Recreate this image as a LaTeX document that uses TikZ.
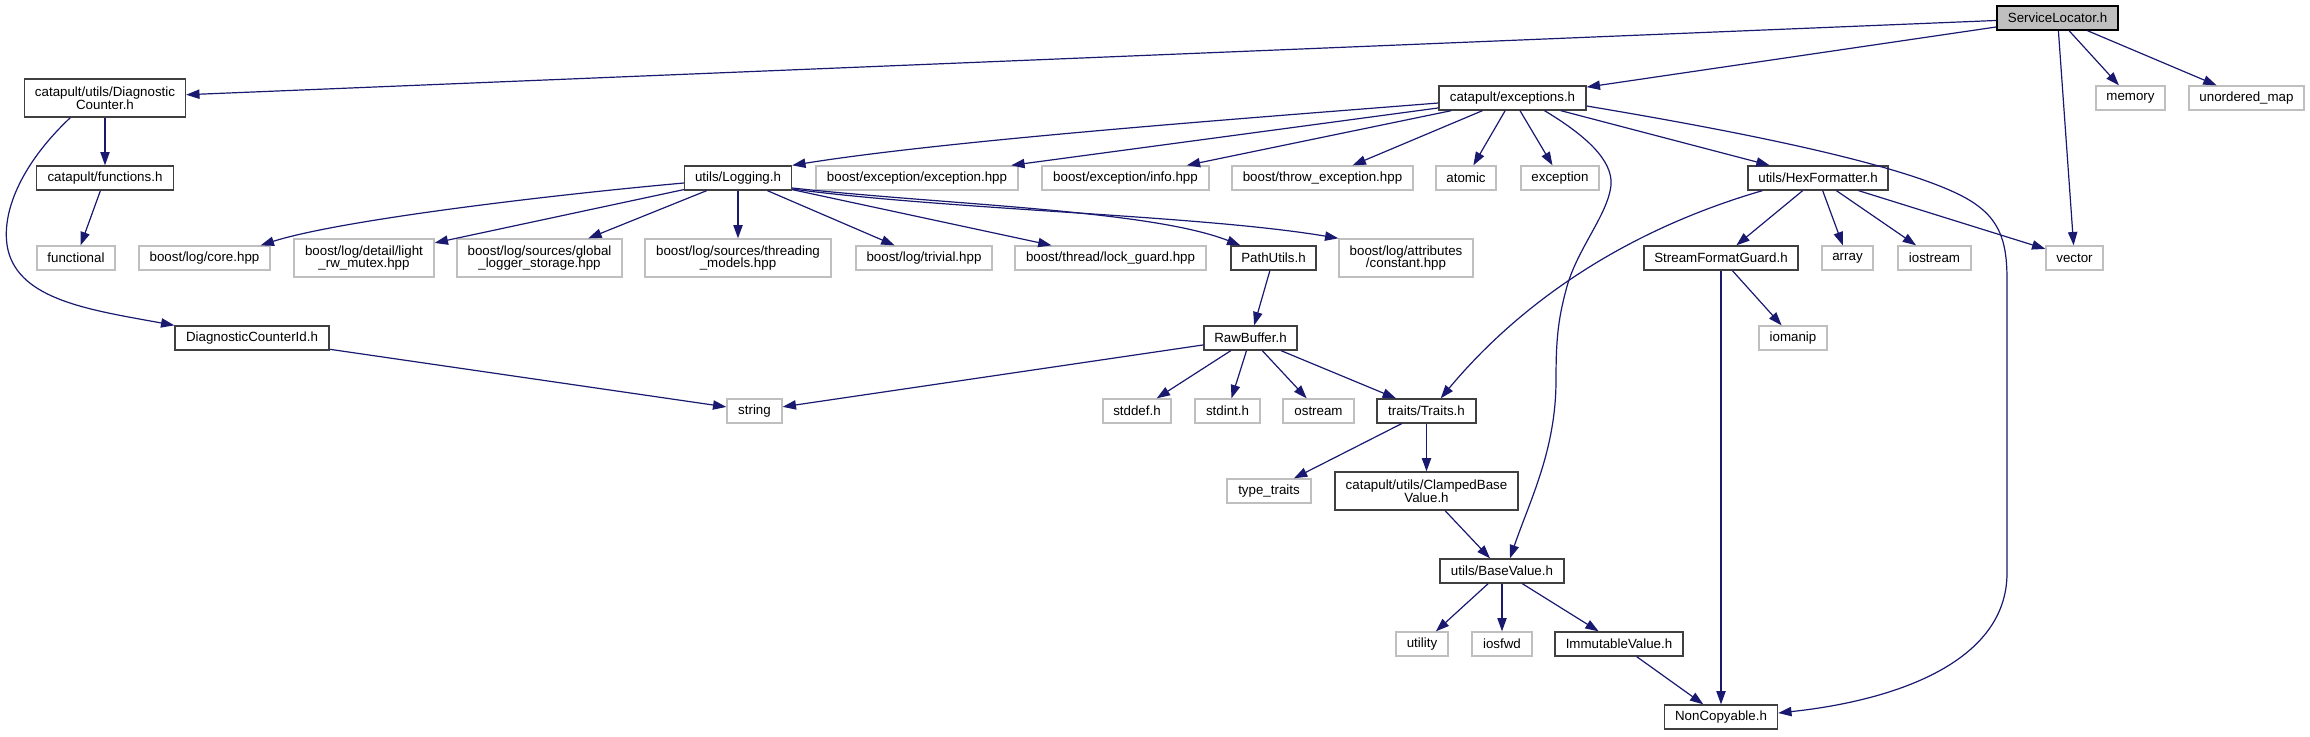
\documentclass[tikz,border=0pt]{standalone}
\usepackage{fontspec}
\setmainfont{Liberation Sans}
\usetikzlibrary{calc,arrows.meta}
\definecolor{edgeblue}{HTML}{191970}
\definecolor{docgrey}{HTML}{404040}
\definecolor{extgrey}{HTML}{BFBFBF}
\tikzset{
  box/.style={rectangle, inner sep=0pt, minimum height=18pt, align=center,
    font=\fontsize{10pt}{9.4pt}\selectfont, line width=1pt, fill=white},
  docbox/.style={box, draw=docgrey},
  extbox/.style={box, draw=extgrey},
  rootbox/.style={box, draw=black, fill=extgrey},
  twoline/.style={minimum height=28.5pt},
  bw/.style={minimum width=#1*0.75pt},
  edge/.style={draw=edgeblue, line width=0.9pt, -{Triangle[length=10pt,width=7pt]}}
}
\begin{document}
\begin{tikzpicture}[x=0.75pt,y=-0.75pt]
\useasboundingbox (0,0) rectangle (2310,736);
% rank 0
\node[rootbox,bw=121] (sl) at (2057.5,18) {ServiceLocator.h};
% rank 1
\node[docbox,twoline,bw=161] (dc) at (105,98) {catapult/utils/Diagnostic\\Counter.h};
\node[docbox,bw=147] (exc) at (1512.5,98) {catapult/exceptions.h};
\node[extbox,bw=69] (mem) at (2130.5,98) {memory};
\node[extbox,bw=115] (umap) at (2246.5,98) {unordered\_map};
% rank 2
\node[docbox,bw=137] (fun) at (105,178) {catapult/functions.h};
\node[docbox,bw=107] (log) at (738,178) {utils/Logging.h};
\node[extbox,bw=202] (bexc) at (917,178) {boost/exception/exception.hpp};
\node[extbox,bw=167] (binfo) at (1125.5,178) {boost/exception/info.hpp};
\node[extbox,bw=181] (bthrow) at (1322.5,178) {boost/throw\_exception.hpp};
\node[extbox,bw=60] (atomic) at (1466,178) {atomic};
\node[extbox,bw=78] (exception) at (1560,178) {exception};
\node[docbox,bw=140] (hex) at (1818,178) {utils/HexFormatter.h};
% rank 3
\node[extbox,bw=78] (functional) at (76,258) {functional};
\node[extbox,bw=131] (core) at (204.5,258) {boost/log/core.hpp};
\node[extbox,twoline,bw=140] (light) at (364,258) {boost/log/detail/light\\\_rw\_mutex.hpp};
\node[extbox,twoline,bw=165] (glob) at (539.5,258) {boost/log/sources/global\\\_logger\_storage.hpp};
\node[extbox,twoline,bw=186] (thr) at (738,258) {boost/log/sources/threading\\\_models.hpp};
\node[extbox,bw=136] (triv) at (924,258) {boost/log/trivial.hpp};
\node[extbox,bw=191] (lock) at (1110.5,258) {boost/thread/lock\_guard.hpp};
\node[docbox,bw=85] (path) at (1273.5,258) {PathUtils.h};
\node[extbox,twoline,bw=134] (cnst) at (1406,258) {boost/log/attributes\\/constant.hpp};
\node[docbox,bw=154] (sfg) at (1721,258) {StreamFormatGuard.h};
\node[extbox,bw=51] (array) at (1847.5,258) {array};
\node[extbox,bw=73] (iostream) at (1934.5,258) {iostream};
\node[extbox,bw=57] (vector) at (2074.5,258) {vector};
% rank 4
\node[docbox,bw=154] (dcid) at (252,338) {DiagnosticCounterId.h};
\node[docbox,bw=93] (raw) at (1250.5,338) {RawBuffer.h};
\node[extbox,bw=68] (iomanip) at (1793,338) {iomanip};
% rank 5
\node[extbox,bw=55] (str) at (754.5,411) {string};
\node[extbox,bw=68] (stddef) at (1137,411) {stddef.h};
\node[extbox,bw=65] (stdint) at (1227.5,411) {stdint.h};
\node[extbox,bw=71] (ostream) at (1318.5,411) {ostream};
\node[docbox,bw=99] (traits) at (1426.5,411) {traits/Traits.h};
% rank 6
\node[extbox,bw=84] (tt) at (1269,491) {type\_traits};
\node[docbox,twoline,bw=183] (clamp) at (1426.5,491) {catapult/utils/ClampedBase\\Value.h};
% rank 7
\node[docbox,bw=124] (bv) at (1502,571) {utils/BaseValue.h};
% rank 8
\node[extbox,bw=52] (util) at (1422,644) {utility};
\node[extbox,bw=60] (iosfwd) at (1502,644) {iosfwd};
\node[docbox,bw=128] (imm) at (1619,644) {ImmutableValue.h};
% rank 9
\node[docbox,bw=113] (nc) at (1721,717) {NonCopyable.h};

% edges from ServiceLocator
\draw[edge] (sl) -- (dc);
\draw[edge] (sl) -- (exc);
\draw[edge] (sl) -- (mem);
\draw[edge] (sl) -- (umap);
\draw[edge] (sl) -- (vector);
% DiagnosticCounter
\draw[edge] (dc) -- (fun);
\draw[edge] ($(dc.south west)+(46.5,0)$) .. controls (20,165) and (0,215) .. (8,250)
   .. controls (20,300) and (90,310) .. (dcid.north west);
\draw[edge] (fun) -- (functional);
\draw[edge] (dcid) -- (str);
% exceptions
\draw[edge] ($(exc.west)+(0,5)$) .. controls (1250,118) and (950,140) .. (log.north east);
\draw[edge] (exc) -- (bexc);
\draw[edge] (exc) -- (binfo);
\draw[edge] (exc) -- (bthrow);
\draw[edge] (exc) -- (atomic);
\draw[edge] (exc) -- (exception);
\draw[edge] (exc) -- (hex);
\draw[edge] ($(exc.south)+(32,0)$) .. controls (1585,135) and (1613,160) .. (1611,185)
   .. controls (1608,215) and (1576,250) .. (1566,290)
   .. controls (1558,320) and (1556,340) .. (1556,380)
   .. controls (1556,450) and (1530,500) .. ($(bv.north)+(8,0)$);
\draw[edge] ($(exc.east)+(0,8)$) .. controls (1760,135) and (1900,165) .. (1960,195)
   .. controls (2000,215) and (2007,240) .. (2007,280) -- (2007,573)
   .. controls (2007,660) and (1900,700) .. ($(nc.east)+(0,-4)$);
% Logging
\draw[edge] ($(log.west)+(0,5)$) .. controls (550,195) and (340,220) .. ($(core.north east)+(-10,0)$);
\draw[edge] (log) -- (light);
\draw[edge] (log) -- (glob);
\draw[edge] (log) -- (thr);
\draw[edge] (log) -- (triv);
\draw[edge] (log) -- (lock);
\draw[edge] ($(log.east)+(0,10)$) .. controls (950,205) and (1150,210) .. ($(path.north west)+(10,0)$);
\draw[edge] ($(log.east)+(0,11)$) .. controls (950,210) and (1200,215) .. (cnst.north west);
% PathUtils / RawBuffer
\draw[edge] (path) -- (raw);
\draw[edge] (raw) -- (str);
\draw[edge] (raw) -- (stddef);
\draw[edge] (raw) -- (stdint);
\draw[edge] (raw) -- (ostream);
\draw[edge] (raw) -- (traits);
% HexFormatter
\draw[edge] ($(hex.south west)+(15,0)$) .. controls (1610,235) and (1510,315) .. ($(traits.north east)+(-36,0)$);
\draw[edge] (hex) -- (sfg);
\draw[edge] (hex) -- (array);
\draw[edge] (hex) -- (iostream);
\draw[edge] (hex) -- (vector);
% StreamFormatGuard
\draw[edge] (sfg) -- (iomanip);
\draw[edge] (sfg) -- (nc);
% traits
\draw[edge] (traits) -- (tt);
\draw[edge] (traits) -- (clamp);
\draw[edge] (clamp) -- (bv);
% BaseValue
\draw[edge] (bv) -- (util);
\draw[edge] (bv) -- (iosfwd);
\draw[edge] (bv) -- (imm);
\draw[edge] (imm) -- (nc);
\end{tikzpicture}
\end{document}
